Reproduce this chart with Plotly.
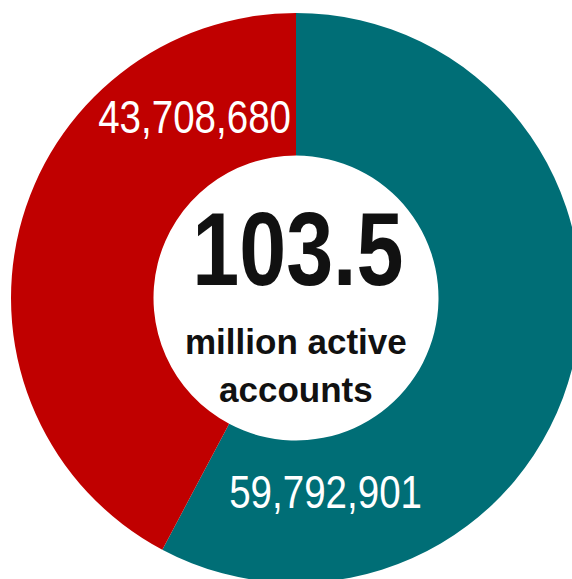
import plotly.graph_objects as go

# ---- data ----
segments = ["Segment A", "Segment B"]
accounts = [59792901, 43708680]
colors = ["#006E76", "#C00000"]
total_millions = round(sum(accounts) / 1e6, 1)
center_caption = ["million active", "accounts"]

# ---- figure geometry (page is slightly larger than the window; pie is clipped like the reference) ----
W, H = 581, 583
ML, MT = 11, 13
PW, PH = W - ML, H - MT


def pxx(x):
    return (x - ML) / PW


def pxy(y):
    return 1 - (y - MT) / PH


SANS = "Liberation Sans, Arial, sans-serif"

fig = go.Figure(
    go.Pie(
        labels=segments,
        values=accounts,
        hole=0.5,
        sort=False,
        direction="clockwise",
        rotation=0,
        marker=dict(colors=colors, line=dict(width=0)),
        textinfo="none",
        hoverinfo="label+value",
        showlegend=False,
    )
)

annotations = [
    dict(text=f"{accounts[1]:,}", x=pxx(194), y=pxy(116.5),
         font=dict(family=SANS, size=47, color="white")),
    dict(text=f"{accounts[0]:,}", x=pxx(325), y=pxy(491.5),
         font=dict(family=SANS, size=47, color="white")),
    dict(text=f"<b>{total_millions}</b>", x=pxx(298), y=pxy(250),
         font=dict(family=SANS, size=103, color="#111111")),
    dict(text=f"<b>{center_caption[0]}</b>", x=pxx(296), y=pxy(341),
         font=dict(family=SANS, size=35, color="#111111")),
    dict(text=f"<b>{center_caption[1]}</b>", x=pxx(296), y=pxy(390),
         font=dict(family=SANS, size=35, color="#111111")),
]
for a in annotations:
    a.update(xref="paper", yref="paper", showarrow=False, xanchor="center", yanchor="middle")

fig.update_layout(
    width=W,
    height=H,
    margin=dict(l=ML, r=0, t=MT, b=0, pad=0),
    paper_bgcolor="white",
    plot_bgcolor="white",
    annotations=annotations,
)

# Emulate a narrow typeface (Arial Narrow ~ Arial at 82% width) for the numeric labels.
post = """
document.documentElement.style.overflow='hidden';
document.body.style.overflow='hidden';
document.body.style.margin='0';
var gd = document.getElementById('{plot_id}');
[0, 1, 2].forEach(function(i){
  gd.querySelectorAll('.annotation[data-index="' + i + '"] text').forEach(function(t){
    t.style.transformBox = 'fill-box';
    t.style.transformOrigin = 'center';
    t.style.transform = 'scaleX(0.82)';
  });
});
"""

fig.write_html("out.html", post_script=post)
